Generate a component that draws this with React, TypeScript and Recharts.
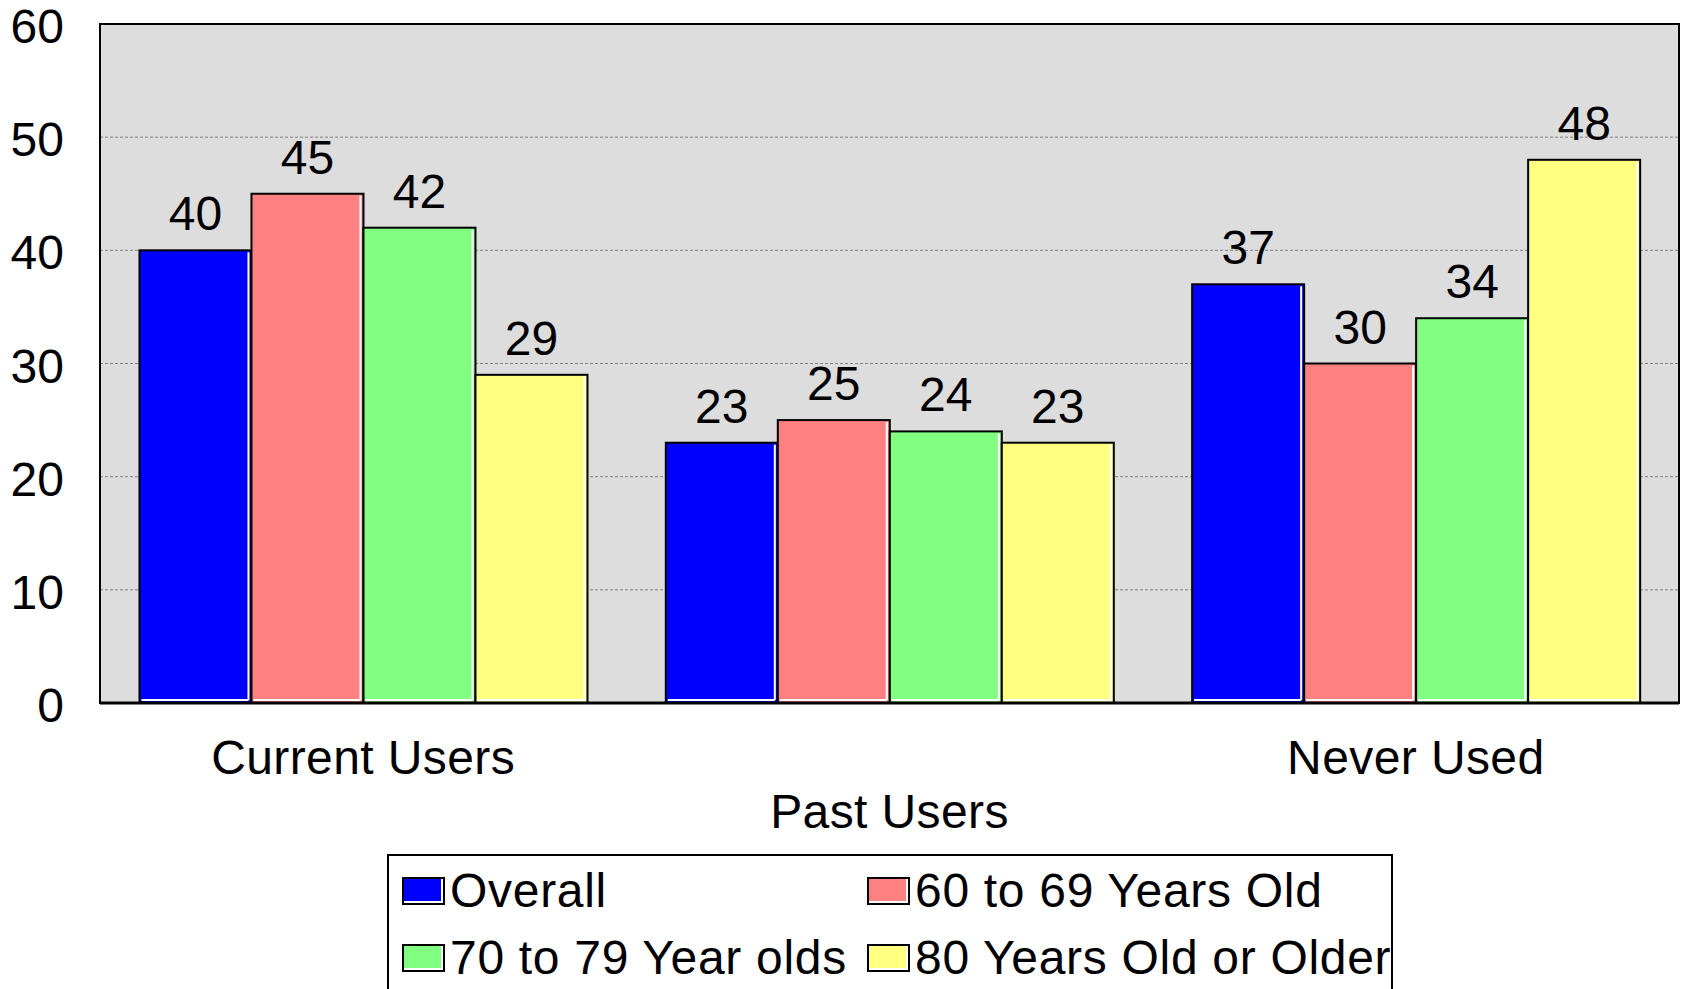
import React from 'react';
import { BarChart, Bar, XAxis, YAxis, CartesianGrid, Legend, LabelList, ReferenceArea } from 'recharts';

const categories = ['Current Users', 'Past Users', 'Never Used'];
const overall = [40, 23, 37];
const age60to69 = [45, 25, 30];
const age70to79 = [42, 24, 34];
const age80plus = [29, 23, 48];
const yTicks = [0, 10, 20, 30, 40, 50, 60];
const seriesNames = ['Overall', '60 to 69 Years Old', '70 to 79 Year olds', '80 Years Old or Older'];

const data = categories.map((name, i) => ({
  name,
  overall: overall[i],
  age60to69: age60to69[i],
  age70to79: age70to79[i],
  age80plus: age80plus[i],
}));

const FONT = '"Liberation Sans", Arial, sans-serif';

// bar with black outline and a thin white inner edge, like the old Excel look
const BarShape = (props: any) => {
  const { x, y, width, height, fill } = props;
  if (!height || height <= 0) return null;
  return (
    <g>
      <rect x={x} y={y} width={width} height={height} fill={fill} stroke="#000" strokeWidth={2} />
      <line x1={x + width - 3} y1={y + 2} x2={x + width - 3} y2={y + height - 3} stroke="#fff" strokeWidth={2} />
      <line x1={x + 2} y1={y + height - 3} x2={x + width - 3} y2={y + height - 3} stroke="#fff" strokeWidth={2} />
    </g>
  );
};

// category labels alternate between two rows
const CategoryTick = (props: any) => {
  const { x, y, payload, index } = props;
  return (
    <text x={x} y={y + (index % 2 === 1 ? 108 : 54)} textAnchor="middle" dominantBaseline="central"
      fontSize={48} fontFamily={FONT} fill="#000" letterSpacing={0.4}>
      {payload.value}
    </text>
  );
};

const LegendBox = (props: any) => {
  const items = [...(props.payload || [])].sort(
    (a: any, b: any) => seriesNames.indexOf(a.value) - seriesNames.indexOf(b.value)
  );
  const pos = [
    { left: 13, top: 35 },
    { left: 478, top: 35 },
    { left: 13, top: 102 },
    { left: 478, top: 102 },
  ];
  return (
    <div style={{ position: 'relative', width: 1006, height: 140, border: '2px solid #000', background: '#fff', boxSizing: 'border-box' }}>
      {items.map((it: any, i: number) => (
        <div key={it.value} style={{ position: 'absolute', left: pos[i].left, top: pos[i].top, transform: 'translateY(-50%)', display: 'flex', alignItems: 'center', fontFamily: FONT, fontSize: 48, whiteSpace: 'nowrap', lineHeight: 1, letterSpacing: '0.7px' }}>
          <span style={{ display: 'inline-block', width: 39, height: 24, background: it.color, border: '2px solid #000', boxShadow: 'inset -2px -2px 0 #fff', marginRight: 5 }} />
          <span>{it.value}</span>
        </div>
      ))}
    </div>
  );
};

export default function App() {
  return (
    <div style={{ position: 'absolute', left: 0, top: 0, background: '#fff' }}>
      <BarChart width={1684} height={989} data={data} margin={{ top: 24, right: 5, bottom: 0, left: 0 }}
        barCategoryGap="7.5%" barGap={0}>
        <CartesianGrid vertical={false} fill="#DDDDDD" fillOpacity={1} stroke="#808080" strokeDasharray="3 2"
          horizontalValues={[10, 20, 30, 40, 50]} />
        <XAxis dataKey="name" axisLine={{ stroke: '#000', strokeWidth: 3 }} tickLine={false} tickSize={0} tickMargin={0}
          interval={0} tick={<CategoryTick />} height={286} />
        <YAxis domain={[0, 60]} ticks={yTicks} width={100} axisLine={{ stroke: '#000', strokeWidth: 2 }} tickLine={false}
          tickSize={0} tickMargin={36} tick={{ fill: '#000', fontSize: 48, fontFamily: FONT, dy: 2 }} interval={0} />
        <ReferenceArea y1={0} y2={60} fill="none" fillOpacity={0} stroke="#000" strokeWidth={2} ifOverflow="visible" />
        <Legend content={<LegendBox />} wrapperStyle={{ left: 387, top: 854, bottom: 'auto', width: 1006, height: 0 }} />
        <Bar dataKey="overall" name="Overall" fill="#0000FF" shape={<BarShape />} isAnimationActive={false}>
          <LabelList dataKey="overall" position="top" offset={20} fill="#000" fontSize={48} fontFamily={FONT} />
        </Bar>
        <Bar dataKey="age60to69" name="60 to 69 Years Old" fill="#FF8080" shape={<BarShape />} isAnimationActive={false}>
          <LabelList dataKey="age60to69" position="top" offset={20} fill="#000" fontSize={48} fontFamily={FONT} />
        </Bar>
        <Bar dataKey="age70to79" name="70 to 79 Year olds" fill="#80FF80" shape={<BarShape />} isAnimationActive={false}>
          <LabelList dataKey="age70to79" position="top" offset={20} fill="#000" fontSize={48} fontFamily={FONT} />
        </Bar>
        <Bar dataKey="age80plus" name="80 Years Old or Older" fill="#FFFF80" shape={<BarShape />} isAnimationActive={false}>
          <LabelList dataKey="age80plus" position="top" offset={20} fill="#000" fontSize={48} fontFamily={FONT} />
        </Bar>
      </BarChart>
    </div>
  );
}
